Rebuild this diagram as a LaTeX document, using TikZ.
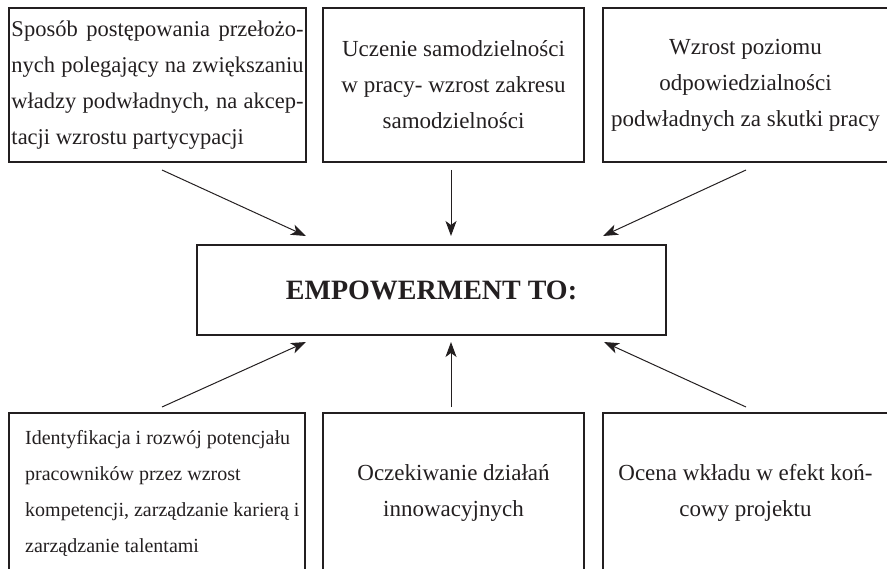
\documentclass[tikz,border=0pt]{standalone}
\usepackage{fontspec}
\setmainfont{Liberation Serif}
\usetikzlibrary{arrows.meta}
\definecolor{ink}{HTML}{231F20}
\tikzset{
  box/.style={draw=ink, line width=1.1bp, rectangle, inner sep=0pt, text=ink,
    font=\fontsize{23bp}{36bp}\selectfont},
  txt/.style={inner sep=0pt, text=ink, font=\fontsize{20bp}{36bp}\selectfont},
  arr/.style={draw=ink, line width=1bp, -{Stealth[length=15bp,width=11bp,inset=4bp]}}
}
\begin{document}
\begin{tikzpicture}[x=1bp,y=-1bp]
\useasboundingbox (0,0) rectangle (887,569);
\clip (0,0) rectangle (887,569);

% top row
\node[box, minimum width=297bp, minimum height=154bp, text width=292bp, align=justify,
  font=\fontsize{22.5bp}{36bp}\selectfont] (tl) at (157.5,85)
  {Sposób postępowania przełożo-\linebreak nych polegający na zwiększaniu\linebreak władzy podwładnych, na akcep-\linebreak tacji wzrostu partycypacji};
\node[box, minimum width=261bp, minimum height=154bp, align=center] (tm) at (453.5,85)
  {Uczenie samodzielności\\w pracy- wzrost zakresu\\samodzielności};
\node[box, minimum width=285bp, minimum height=154bp, align=center] (tr) at (745.5,85)
  {Wzrost poziomu\\odpowiedzialności\\podwładnych za skutki pracy};

% centre
\node[box, minimum width=469bp, minimum height=90bp,
  font=\fontsize{28bp}{34bp}\selectfont\bfseries] (c) at (431.5,290) {EMPOWERMENT TO:};

% bottom row
\node[box, minimum width=296bp, minimum height=160bp] (bl) at (157,493) {};
\node[txt, anchor=west, align=left] (bltext) at (25,493)
  {Identyfikacja i rozwój potencjału\\pracowników przez wzrost\\kompetencji, zarządzanie karierą i\\zarządzanie talentami};
\node[box, minimum width=261bp, minimum height=160bp, align=center] (bm) at (453.5,493)
  {Oczekiwanie działań\\innowacyjnych};
\node[box, minimum width=285bp, minimum height=160bp, align=center] (br) at (745.5,493)
  {Ocena wkładu w efekt koń-\\cowy projektu};

% arrow ends
\coordinate (t1) at (162,170);  \coordinate (h1) at (306,236);
\coordinate (t2) at (451,170);  \coordinate (h2) at (451,236);
\coordinate (t3) at (746,170);  \coordinate (h3) at (603,236);
\coordinate (t4) at (162,407);  \coordinate (h4) at (306,342);
\coordinate (t5) at (451,407);  \coordinate (h5) at (451,342);
\coordinate (t6) at (746,407);  \coordinate (h6) at (604,342);

\draw[arr] (t1) -- (h1);
\draw[arr] (t2) -- (h2);
\draw[arr] (t3) -- (h3);
\draw[arr] (t4) -- (h4);
\draw[arr] (t5) -- (h5);
\draw[arr] (t6) -- (h6);
\end{tikzpicture}
\end{document}
